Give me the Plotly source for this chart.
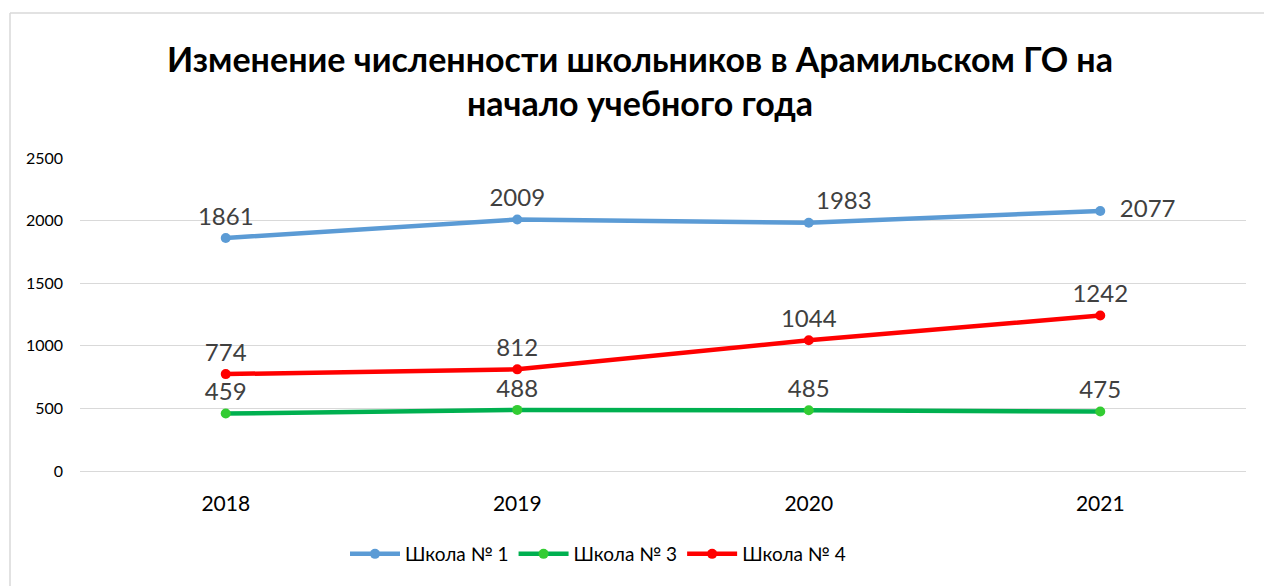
import plotly.graph_objects as go

years = ["2018", "2019", "2020", "2021"]
school1 = [1861, 2009, 1983, 2077]
school3 = [459, 488, 485, 475]
school4 = [774, 812, 1044, 1242]
names = ["Школа № 1", "Школа № 3", "Школа № 4"]
title_text = "Изменение численности школьников в Арамильском ГО на<br>начало учебного года"

pos1 = ["top center", "top center", "top right", "middle right"]
tmpl1 = ["%{y}", "%{y}", "%{y}", "\u00a0\u00a0%{y}"]
pos3 = ["top center"] * 4
pos4 = ["top center"] * 4

FONT = "Lato"
fig = go.Figure()
series = [
    (school1, names[0], "#5B9BD5", "#5B9BD5", pos1, tmpl1),
    (school3, names[1], "#00B050", "#33CC33", pos3, "%{y}"),
    (school4, names[2], "#FF0000", "#FF0000", pos4, "%{y}"),
]
for vals, nm, lc, mc, pos, tmpl in series:
    fig.add_trace(go.Scatter(
        x=years, y=vals, name=nm, mode="lines+markers+text",
        line=dict(color=lc, width=4.5),
        marker=dict(color=mc, size=10),
        texttemplate=tmpl, textposition=pos,
        textfont=dict(family=FONT, size=24, color="#404040"),
        cliponaxis=False, hoverinfo="x+y+name",
    ))

L, R, T, B = 80, 18, 158, 115
W, H = 1264, 586
pw, ph = W - L - R, H - T - B
x0 = (10 - L) / pw
y1 = 1 + (T - 13) / ph
fig.update_layout(
    width=W, height=H,
    margin=dict(l=L, r=R, t=T, b=B),
    paper_bgcolor="white", plot_bgcolor="white",
    title=dict(text=title_text, x=640 / W, xanchor="center",
               y=1 - 72 / H, yanchor="middle",
               font=dict(family=FONT, size=34, color="black", weight="bold")),
    xaxis=dict(type="category", range=[-0.5, 3.5], showgrid=False, showline=False,
               ticks="", tickfont=dict(family=FONT, size=21, color="#000000"),
               ticklabelstandoff=18),
    yaxis=dict(range=[0, 2500], dtick=500, showgrid=True, gridcolor="#D9D9D9",
               gridwidth=1, zeroline=True, zerolinecolor="#D9D9D9", zerolinewidth=1,
               showline=False, ticks="",
               tickfont=dict(family=FONT, size=16, color="#000000"),
               ticklabelstandoff=16),
    legend=dict(orientation="h", x=(598 - L) / pw, xanchor="center",
                y=-(554 - (H - B)) / ph, yanchor="middle",
                font=dict(family=FONT, size=19, color="#000000"),
                itemwidth=50, tracegroupgap=0),
    showlegend=True,
    shapes=[
        dict(type="line", xref="paper", yref="paper", x0=x0, x1=1.1, y0=y1, y1=y1,
             line=dict(color="#D9D9D9", width=1.5)),
        dict(type="line", xref="paper", yref="paper", x0=x0, x1=x0, y0=y1, y1=-0.5,
             line=dict(color="#D9D9D9", width=1.5)),
    ],
)
fig.write_html("out.html")
